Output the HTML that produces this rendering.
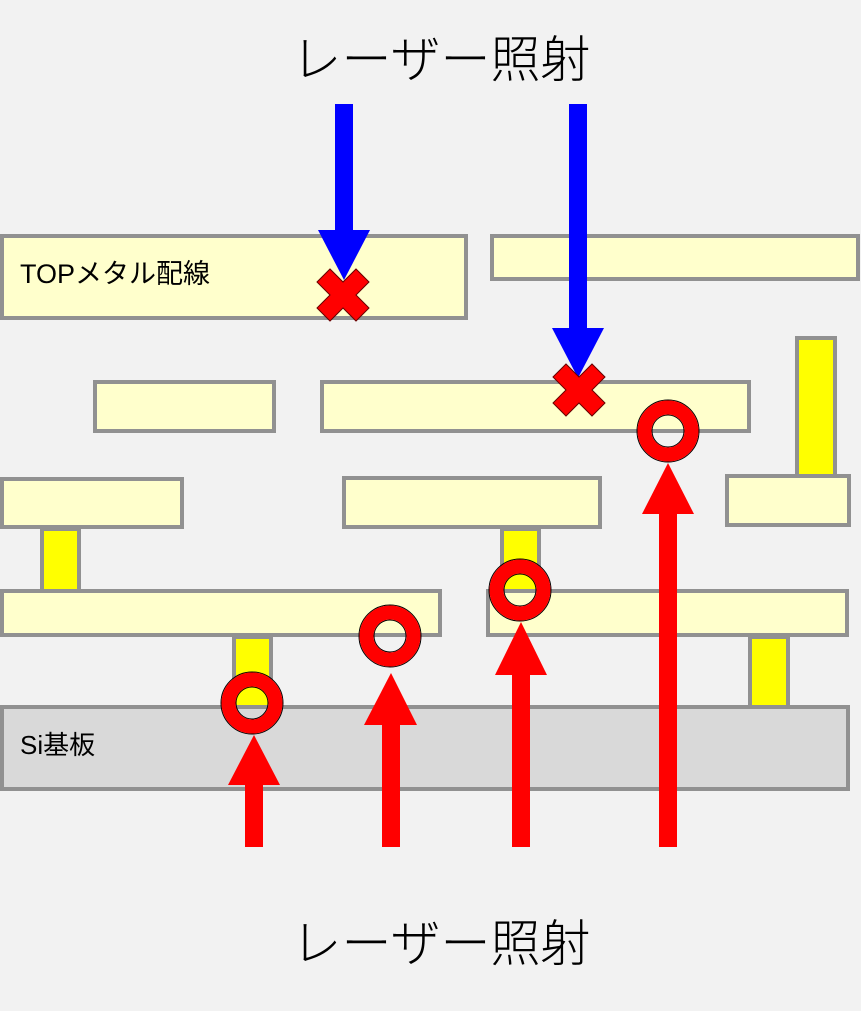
<!DOCTYPE html>
<html><head><meta charset="utf-8"><style>
html,body{margin:0;padding:0;background:#f2f2f2;}
svg{display:block;}
</style></head><body>
<svg width="861" height="1011" viewBox="0 0 861 1011" xmlns="http://www.w3.org/2000/svg">
<rect width="861" height="1011" fill="#f2f2f2"/>
<g stroke="#919191" stroke-width="4" fill="#ffffcc">
<rect x="2" y="236" width="464" height="82"/>
<rect x="492" y="236" width="366" height="43"/>
<rect x="95" y="382" width="179" height="49"/>
<rect x="322" y="382" width="427" height="49"/>
<rect x="2" y="479" width="180" height="48"/>
<rect x="344" y="478" width="256" height="49"/>
<rect x="727" y="476" width="122" height="49"/>
<rect x="2" y="591" width="438" height="44"/>
<rect x="488" y="591" width="359" height="44"/>
<rect x="2" y="707" width="846" height="82" fill="#d9d9d9"/>
</g>
<g stroke="#919191" stroke-width="4" fill="#ffff00">
<rect x="42" y="529" width="37" height="62"/>
<rect x="502" y="529" width="37" height="62"/>
<rect x="234" y="637" width="37" height="70"/>
<rect x="750" y="637" width="38" height="70"/>
<rect x="797" y="338" width="38" height="138"/>
</g>
<text x="20" y="283" font-family="Liberation Sans, 'Noto Sans CJK JP', sans-serif" font-size="27" fill="#000">TOPメタル配線</text>
<text x="20" y="754" font-family="Liberation Sans, 'Noto Sans CJK JP', sans-serif" font-size="26" fill="#000">Si基板</text>
<g fill="#0000ff">
<rect x="335" y="104" width="18" height="128"/>
<polygon points="318,230 370,230 344,280"/>
<rect x="569" y="104" width="18" height="226"/>
<polygon points="552,328 604,328 578,378"/>
</g>
<g fill="#ff0000" stroke="#600" stroke-width="1">
<path d="M343,295 m-26,-13 l13,-13 l13,13 l13,-13 l13,13 l-13,13 l13,13 l-13,13 l-13,-13 l-13,13 l-13,-13 l13,-13 z"/>
<path d="M579,390 m-26,-13 l13,-13 l13,13 l13,-13 l13,13 l-13,13 l13,13 l-13,13 l-13,-13 l-13,13 l-13,-13 l13,-13 z"/>
</g>
<g fill="#ff0000">
<rect x="245" y="783" width="18" height="64"/>
<polygon points="228,785 280,785 254,735"/>
<rect x="382" y="723" width="18" height="124"/>
<polygon points="364,725 417,725 391,673"/>
<rect x="512" y="673" width="18" height="174"/>
<polygon points="495,675 547,675 521,622"/>
<rect x="659" y="512" width="18" height="335"/>
<polygon points="642,514 694,514 668,463"/>
</g>
<g fill="none" stroke="#000" stroke-width="1">
<circle cx="252" cy="703" r="31"/><circle cx="252" cy="703" r="16"/>
<circle cx="390" cy="636" r="31"/><circle cx="390" cy="636" r="16"/>
<circle cx="520" cy="590" r="31"/><circle cx="520" cy="590" r="16"/>
<circle cx="668" cy="431" r="31"/><circle cx="668" cy="431" r="16"/>
</g>
<g fill="none" stroke="#ff0000" stroke-width="14">
<circle cx="252" cy="703" r="23.5"/>
<circle cx="390" cy="636" r="23.5"/>
<circle cx="520" cy="590" r="23.5"/>
<circle cx="668" cy="431" r="23.5"/>
</g>
<text x="441" y="77" text-anchor="middle" font-family="Liberation Sans, 'Noto Sans CJK JP', sans-serif" font-size="50" font-weight="300" fill="#000">レーザー照射</text>
<text x="441" y="961" text-anchor="middle" font-family="Liberation Sans, 'Noto Sans CJK JP', sans-serif" font-size="50" font-weight="300" fill="#000">レーザー照射</text>
</svg>
</body></html>
